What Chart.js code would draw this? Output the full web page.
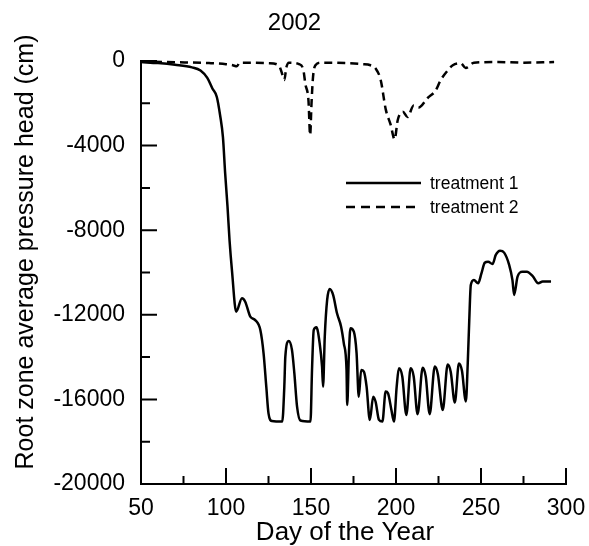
<!DOCTYPE html>
<html>
<head>
<meta charset="utf-8">
<script src="https://cdn.jsdelivr.net/npm/chart.js@4/dist/chart.umd.min.js"></script>
<style>
  html, body { margin: 0; padding: 0; background: #fff; }
  #wrap { width: 589px; height: 546px; }
</style>
</head>
<body>
<div id="wrap"><canvas id="chart"></canvas></div>
<script>
// ===== data =====
const days1 = [50, 60, 70, 80, 85, 89, 92, 94.6, 96.6, 98.2, 99.5, 100.9, 102.1, 103.5, 106, 109.4, 111.3,
  114.3, 117.2, 120.2, 122.1, 123.7, 125, 127, 133.1, 134.3, 134.9, 136.9, 138.8, 140.2, 141.8, 143.8,
  149.7, 150.6, 151.6, 153.2, 155.1, 156.5, 157.1, 158.1, 159.5, 161, 163, 165.3, 167.7, 169.3, 170.9,
  171.3, 172.3, 173.2, 175.2, 176.8, 178.1, 179.5, 181.1, 182.7, 184.6, 186.6, 188, 190, 192, 193.9,
  195.3, 197.3, 198.8, 200.4, 201.7, 203.7, 206.1, 208.6, 210.4, 212.7, 215.7, 217.5, 219.8, 222.8,
  224.6, 227.5, 230.4, 232.2, 234.6, 237, 238.8, 241.1, 242.2, 243.1, 244, 245.8, 248.3, 250.3, 252.2,
  254.2, 256.8, 258.7, 261.2, 263.6, 266.6, 268.5, 269.5, 271.5, 274.4, 277, 280.4, 283.7, 286.3, 291.2];
const head1 = [-50, -100, -180, -300, -450, -800, -1300, -1700, -2600, -3600, -5300, -6900, -8500, -9900,
  -11850, -11220, -11380, -12090, -12250, -12720, -13820, -15400, -16660, -17020, -17050, -15400, -13980,
  -13240, -13660, -14760, -16340, -17000, -17050, -14600, -12720, -12590, -13350, -14450, -15400, -13030,
  -11300, -10780, -11060, -11930, -12560, -13350, -14600, -16260, -13820, -12640, -12800, -13800, -15870,
  -14610, -14690, -15400, -16970, -15870, -16110, -16970, -17050, -15630, -15710, -16500, -17050, -15400,
  -14530, -14920, -16740, -14530, -14920, -16700, -14500, -14920, -16700, -14450, -14800, -16500, -14350,
  -14700, -16150, -14300, -14650, -16100, -14300, -12250, -10590, -10350, -10510, -10030, -9540, -9490,
  -9600, -9170, -8970, -9060, -9650, -10360, -11060, -10200, -9960, -9960, -10170, -10510, -10430, -10430];

const days2 = [50, 70, 90, 100, 104, 106.4, 108, 115, 125, 131, 133, 134.3, 135.5, 137, 143, 145.5, 146.7,
  148.5, 149.5, 150.3, 151.2, 152.6, 156, 170, 180, 185, 188, 191, 194, 196.8, 199.2, 201, 204, 206.8,
  210.4, 213.3, 218.6, 223.3, 226.3, 230.4, 233.4, 238, 241, 245.8, 260, 275, 293];
const head2 = [-30, -60, -100, -150, -200, -250, -80, -80, -100, -200, -600, -900, -300, -80, -150, -420,
  -1100, -1850, -3500, -2000, -750, -200, -80, -100, -150, -200, -350, -900, -2300, -3000, -3700, -2800,
  -2400, -2650, -2100, -2200, -1750, -1400, -900, -450, -200, -100, -330, -80, -50, -80, -50];

const seriesNames = ["treatment 1", "treatment 2"];
const xTicks = [50, 100, 150, 200, 250, 300];
const xMinor = [75, 125, 175, 225, 275];
const yTicks = [0, -4000, -8000, -12000, -16000, -20000];
const yMinor = [-2000, -6000, -10000, -14000, -18000];

const pts = (xs, ys) => xs.map((x, i) => ({ x: x, y: ys[i] }));
const font = "'Liberation Sans', Arial, sans-serif";

// inward tick marks, major long and minor short
const tickMarks = {
  id: "tickMarks",
  afterDraw(chart) {
    const c = chart.ctx, a = chart.chartArea;
    const sx = chart.scales.x, sy = chart.scales.y;
    c.save();
    c.strokeStyle = "#000";
    c.lineWidth = 2;
    c.beginPath();
    xTicks.forEach(v => { let p = sx.getPixelForValue(v); c.moveTo(p, a.bottom); c.lineTo(p, a.bottom - 16); });
    xMinor.forEach(v => { let p = sx.getPixelForValue(v); c.moveTo(p, a.bottom); c.lineTo(p, a.bottom - 8); });
    yTicks.forEach(v => { let p = sy.getPixelForValue(v); c.moveTo(a.left, p); c.lineTo(a.left + 16, p); });
    yMinor.forEach(v => { let p = sy.getPixelForValue(v); c.moveTo(a.left, p); c.lineTo(a.left + 9, p); });
    c.stroke();
    c.restore();
  }
};

// titles placed like the figure (not centred on the plot box)
const titles = {
  id: "titles",
  afterDraw(chart) {
    const c = chart.ctx;
    c.save();
    c.fillStyle = "#000";
    c.textAlign = "center";
    c.textBaseline = "middle";
    c.font = "24px " + font;
    c.fillText("2002", chart.width / 2, 23);
    c.font = "26px " + font;
    c.fillText("Day of the Year", 345, 533);
    c.translate(26, 252);
    c.rotate(-Math.PI / 2);
    c.font = "25px " + font;
    c.fillText("Root zone average pressure head (cm)", 0, 0);
    c.restore();
  }
};

// legend inside the plot, right of centre
const innerLegend = {
  id: "innerLegend",
  afterDraw(chart) {
    const c = chart.ctx;
    const rows = [{ y: 183, dash: [] }, { y: 207, dash: [9, 6] }];
    c.save();
    c.strokeStyle = "#000";
    c.fillStyle = "#000";
    c.lineWidth = 2.5;
    c.font = "17.5px " + font;
    c.textBaseline = "middle";
    rows.forEach((r, i) => {
      c.setLineDash(r.dash);
      c.beginPath();
      c.moveTo(346, r.y);
      c.lineTo(421, r.y);
      c.stroke();
      c.fillText(seriesNames[i], 430, r.y + 1);
    });
    c.restore();
  }
};

new Chart(document.getElementById("chart"), {
  type: "line",
  data: {
    datasets: [
      {
        label: seriesNames[0],
        data: pts(days1, head1),
        borderColor: "#000",
        borderWidth: 2.5,
        pointRadius: 0,
        cubicInterpolationMode: "monotone",
        clip: false,
      },
      {
        label: seriesNames[1],
        data: pts(days2, head2),
        borderColor: "#000",
        borderWidth: 2.5,
        borderDash: [8, 5],
        pointRadius: 0,
        cubicInterpolationMode: "monotone",
        clip: false,
      },
    ],
  },
  options: {
    responsive: true,
    maintainAspectRatio: false,
    animation: false,
    layout: { padding: { left: 0, right: 23, top: 61, bottom: 0 } },
    plugins: {
      legend: { display: false },
      tooltip: { enabled: false },
      title: { display: false },
    },
    scales: {
      x: {
        type: "linear",
        min: 50,
        max: 300,
        afterFit: (s) => { s.height = 62; },
        grid: { display: false },
        border: { display: true, color: "#000", width: 2 },
        ticks: {
          stepSize: 50,
          color: "#000",
          padding: 3,
          maxRotation: 0,
          font: { family: font, size: 23 },
        },
      },
      y: {
        min: -20000,
        max: 0,
        afterFit: (s) => { s.width = 141; },
        grid: { display: false },
        border: { display: true, color: "#000", width: 2 },
        ticks: {
          stepSize: 4000,
          color: "#000",
          padding: 8,
          font: { family: font, size: 23 },
          callback: (v) => String(v),
        },
      },
    },
  },
  plugins: [tickMarks, titles, innerLegend],
});
</script>
</body>
</html>
